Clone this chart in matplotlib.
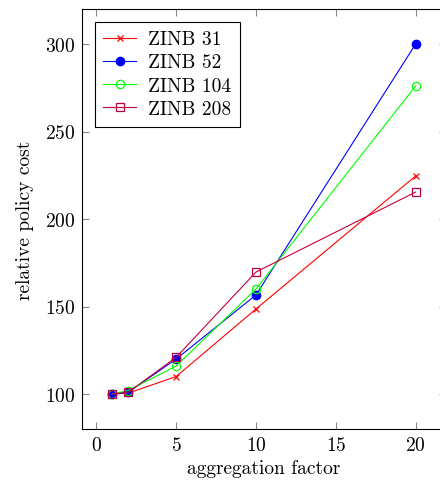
import matplotlib
matplotlib.use("Agg")
import matplotlib.pyplot as plt

plt.rcParams["font.family"] = "cmr10"
plt.rcParams["mathtext.fontset"] = "cm"
plt.rcParams["axes.formatter.use_mathtext"] = True

factors = [1, 2, 5, 10, 20]
zinb_31 = [100, 100.5, 110, 148.6, 224.6]
zinb_52 = [100, 101, 120, 156.6, 300]
zinb_104 = [100, 102, 116, 160, 276]
zinb_208 = [100, 101, 121, 169.7, 215.4]

series = [
    ("ZINB 31", zinb_31, "#FF0000", dict(marker="x", markersize=5, mew=0.9)),
    ("ZINB 52", zinb_52, "#0000FF", dict(marker="o", markersize=6)),
    ("ZINB 104", zinb_104, "#00FF00", dict(marker="o", markersize=6, mfc="none", mew=0.9)),
    ("ZINB 208", zinb_208, "#BF0040", dict(marker="s", markersize=6, mfc="none", mew=0.9)),
]

fig = plt.figure(figsize=(4.4, 4.85), dpi=100)
ax = fig.add_axes([82 / 440, 55 / 485, 364 / 440, 420 / 485])

for label, vals, color, style in series:
    ax.plot(factors, vals, color=color, lw=0.8, label=label, **style)

ax.set_xlim(-0.9, 21.9)
ax.set_ylim(80, 320)
ax.set_xticks([0, 5, 10, 15, 20])
ax.set_yticks([100, 150, 200, 250, 300])
ax.tick_params(direction="in", length=5, color="#888888", labelsize=14,
               top=True, right=True, pad=5)
for s in ax.spines.values():
    s.set_linewidth(0.8)

ax.set_xlabel("aggregation factor", fontsize=14, labelpad=4)
ax.set_ylabel("relative policy cost", fontsize=14, labelpad=8)

leg = ax.legend(loc="upper left", fontsize=14, fancybox=False, framealpha=1,
                edgecolor="black", borderaxespad=0.65, handlelength=1.7,
                labelspacing=0.27, borderpad=0.45, handletextpad=0.6)
leg.get_frame().set_linewidth(0.8)

fig.savefig("out.png", dpi=100)
